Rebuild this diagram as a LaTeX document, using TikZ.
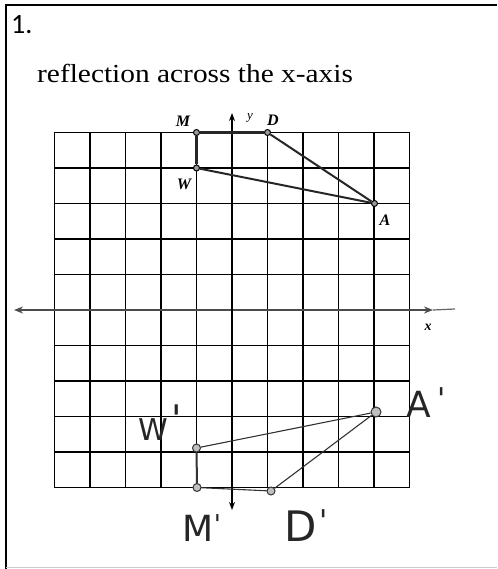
\documentclass[tikz,border=0pt]{standalone}
\usepackage{fontspec}
\setmainfont{Liberation Serif}
\newfontfamily\numfont{Carlito}
\newfontfamily\handfont{DejaVu Sans}
\usetikzlibrary{arrows.meta}
\begin{document}
\begin{tikzpicture}[x=1pt,y=-1pt,
  gridline/.style={line width=1.4pt,black},
  axisline/.style={line width=2.2pt,black!70,{Stealth[length=9pt,width=7pt]}-{Stealth[length=9pt,width=7pt]}},
  orig/.style={line width=2pt,black!85},
  handline/.style={line width=1.1pt,black!80},
  vtx/.style={circle,draw=black,fill=black!40,line width=1pt,inner sep=0pt,minimum size=6pt},
  hvtx/.style={circle,draw=black!80,fill=black!25,line width=1pt,inner sep=0pt,minimum size=8pt},
  plabel/.style={font=\fontsize{16}{16}\selectfont\bfseries\itshape,inner sep=0pt},
  hlabel/.style={inner sep=0pt,black!85}]
\useasboundingbox (0,0) rectangle (497,569);
% frame
\draw[line width=2pt,black] (6,569) -- (6,5) -- (497,5);
\draw[line width=1.5pt,black!20] (6,567.5) -- (497,567.5);
% header
\node[anchor=base west,inner sep=0pt,font=\numfont\fontsize{28}{28}\selectfont] (num) at (11,34) {1.};
\node[anchor=base west,inner sep=0pt,font=\fontsize{26}{26}\selectfont] (title) at (37,83) {\scalebox{1.13}[1]{reflection across the x-axis}};
% grid
\foreach \i in {0,...,10} {
  \draw[gridline] (54.5+35.5*\i,132.5) -- (54.5+35.5*\i,487.5);
  \draw[gridline] (54.5,132.5+35.5*\i) -- (409.5,132.5+35.5*\i);
}
% axes
\coordinate (xl) at (14,310);
\coordinate (xr) at (433,310);
\coordinate (yt) at (232,113);
\coordinate (yb) at (232,510);
\draw[axisline] (xl) -- (xr);
\draw[line width=1.2pt,black!60] (xr) -- (455,309);
\draw[line width=1.5pt,black,{Stealth[length=8pt,width=6pt]}-{Stealth[length=8pt,width=6pt]}] (yb) -- (yt);
\node[font=\fontsize{13}{13}\selectfont\itshape,inner sep=0pt] (ylab) at (250,118) {y};
\node[font=\fontsize{14}{14}\selectfont\bfseries\itshape,inner sep=0pt] (xlab) at (428,327) {x};
% original figure
\node[vtx] (M) at (196.5,132.5) {};
\node[vtx] (D) at (267.5,132.5) {};
\node[vtx] (W) at (196.5,168) {};
\node[vtx] (A) at (374.5,203.5) {};
\draw[orig,line width=2.5pt] (M) -- (D);
\draw[orig,line width=3.5pt] (M) -- (W);
\draw[orig] (D) -- (A);
\draw[orig] (W) -- (A);
\node[plabel] (Ml) at (183,121) {M};
\node[plabel] (Dl) at (273,120) {D};
\node[plabel] (Wl) at (184,184) {W};
\node[plabel] (Al) at (385,220) {A};
% image figure (hand drawn)
\node[hvtx] (Wp) at (196.5,448) {};
\node[hvtx] (Mp) at (197,487.5) {};
\node[hvtx] (Dp) at (271,491) {};
\node[hvtx,minimum size=10pt] (Ap) at (376,412) {};
\draw[handline] (Wp) -- (Ap);
\draw[handline] (Ap) -- (Dp);
\draw[handline] (Dp) -- (Mp);
\draw[handline,line width=2pt] (Mp) -- (Wp);
\node[hlabel,font=\handfont\fontsize{30}{30}\selectfont] (Wpl) at (160,423) {W\kern3pt\raisebox{8pt}{\fontsize{38}{38}\selectfont\char"0027}};
\node[hlabel,font=\handfont\fontsize{36}{36}\selectfont] (Apl) at (426,403) {A\kern6pt\raisebox{8pt}{\fontsize{30}{30}\selectfont\char"0027}};
\node[hlabel,font=\handfont\fontsize{36}{36}\selectfont] (Mpl) at (202,528) {M\raisebox{8pt}{\fontsize{26}{26}\selectfont\char"0027}};
\node[hlabel,font=\handfont\fontsize{42}{42}\selectfont] (Dpl) at (306,526) {D\kern2pt\raisebox{10pt}{\fontsize{30}{30}\selectfont\char"0027}};
\end{tikzpicture}
\end{document}
